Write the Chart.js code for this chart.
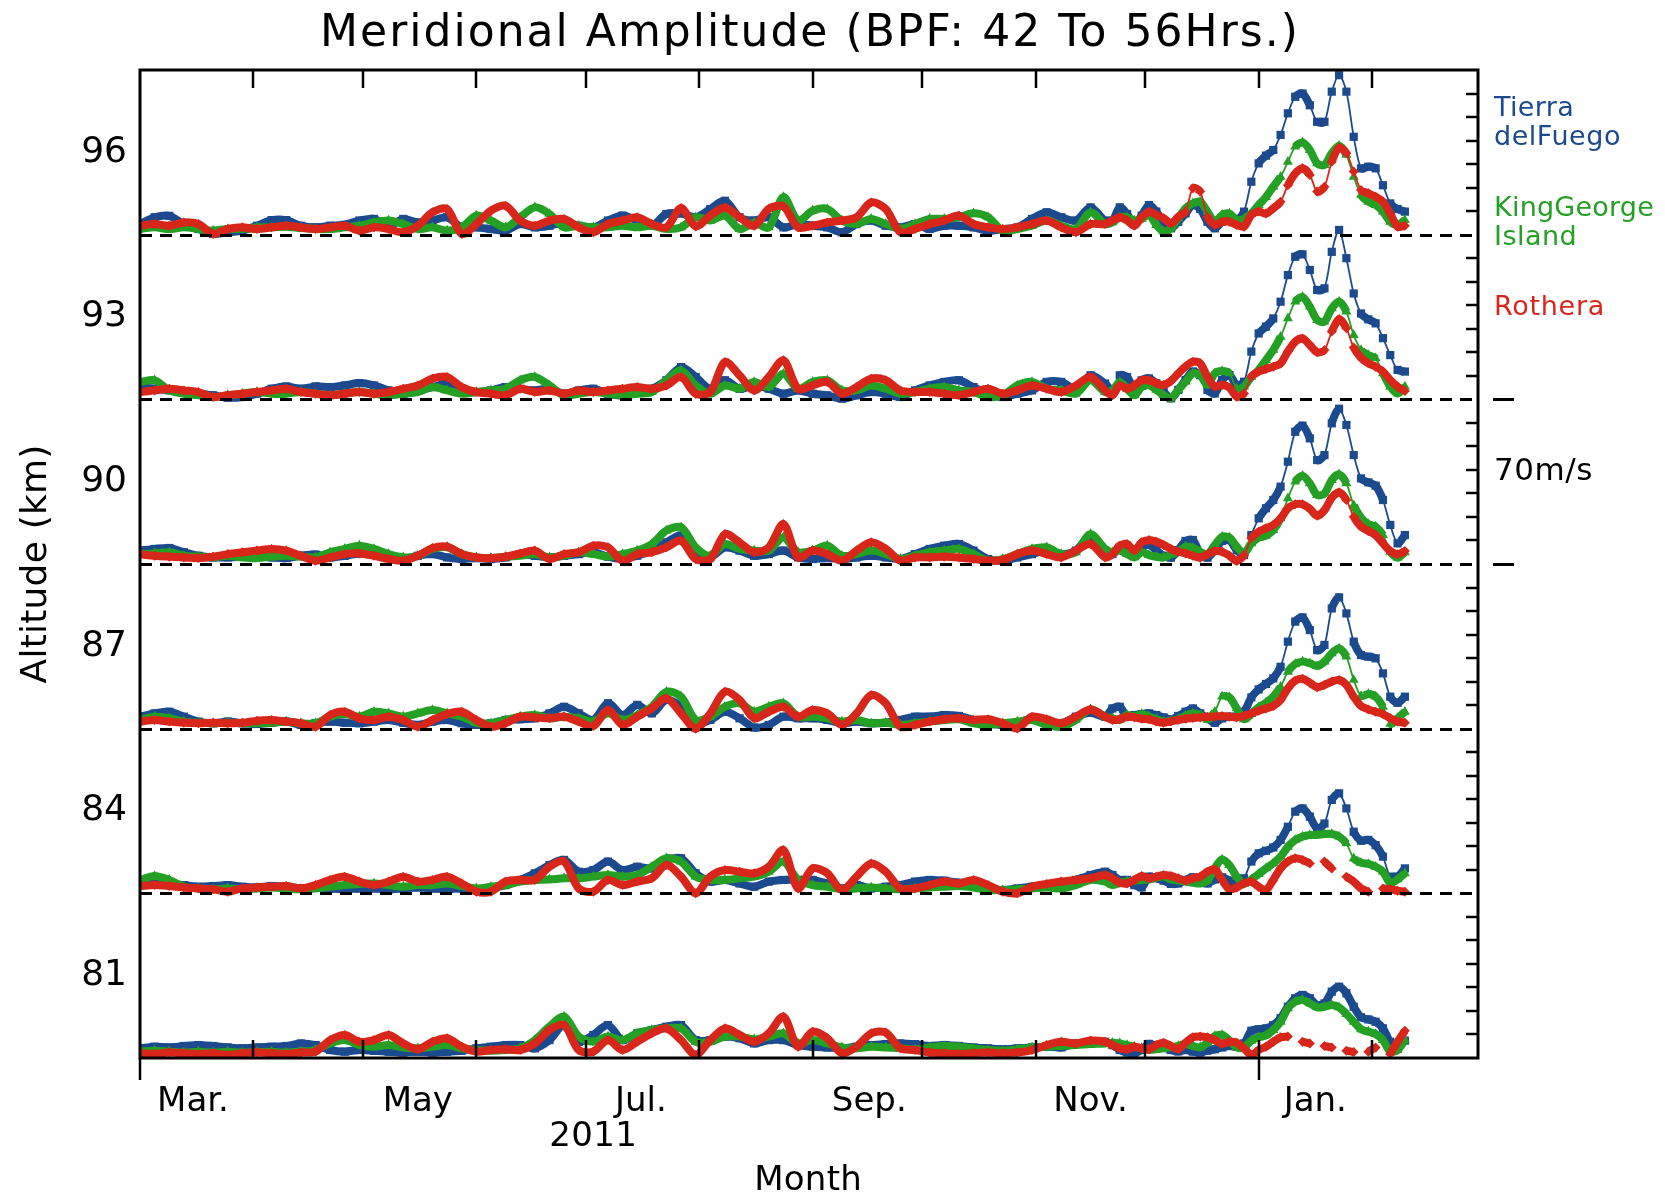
<!DOCTYPE html>
<html><head><meta charset="utf-8">
<script src="https://cdn.jsdelivr.net/npm/chart.js@4.4.0/dist/chart.umd.min.js"></script>
<style>html,body{margin:0;padding:0;background:#fff;}</style>
</head><body>
<canvas id="c" width="1665" height="1199"></canvas>
<script>
// x: days since 1 Mar 2011
const days = [0,4,8,12,16,20,24,28,32,36,40,44,48,52,56,60,64,68,72,76,80,84,88,92,96,100,104,108,112,116,120,124,128,132,136,140,144,148,152,156,160,164,168,172,176,180,184,188,192,196,200,204,208,212,216,220,224,228,232,236,240,244,248,252,256,260,264,266,268,270,272,274,276,278,280,282,284,286,288,290,292,294,296,298,300,302,304,306,308,310,312,314,316,318,320,322,324,326,328,330,332,334,336,338,340,342,344,346];

// meridional amplitudes (m/s)
const tierra96 = [4.5,7.4,8,4.5,2.4,0.3,1,1.7,3.8,6.2,6.2,3.8,3.1,3.8,4.2,6,6.7,3.8,6.7,5.2,6,7.4,3.1,3.1,2.4,1.7,4.5,3.1,3.8,5.2,3.8,3.1,6,8.1,6,3.8,8.8,9,7.4,10.9,14.4,7.4,6,7.4,3.1,4.5,3.8,3.1,1,4.5,6,3.8,3.1,4.5,2.4,3.8,3.8,3.1,1.7,2.4,3.1,6.7,9.5,7.4,6,11.6,6,6,11.6,8.8,4.5,8.1,12.6,9.8,5.5,2.7,5.5,9,12.6,11,5.5,2.7,5.5,6.7,6.2,9.8,22.5,30.3,33.6,36,42.4,51.6,58.6,60,55,48,48,60.8,67.8,60.8,41.6,28.2,28.9,28.2,21,13.3,10.9,9.8];
const king96 = [2.4,3.1,2.4,3.1,2.4,1.7,2.4,2.4,3.1,3.1,3.4,2.8,2.4,2.4,3.1,3.8,5.2,6,4.5,2.4,3.1,1.7,3.1,8.1,6,3.1,7.4,11.6,8.8,3.1,3.8,3.1,3.1,3.8,3.1,3.8,2.4,3.1,7.4,6,8.1,2.4,5,3.1,16,6,10.2,10.9,6,4.5,6.7,4.5,2.4,4.5,6.7,6.7,7.4,9.1,7.4,1.7,2.4,3.8,6,3.8,2.4,9.5,4.5,5.2,7.4,7.4,6,6.7,8.4,4.1,1.3,2.7,7,11.2,13.3,14,9.8,5.5,8.4,9,6.2,6.7,9,12.6,16,20.4,24.6,31,37.4,39.2,36,30.3,29.6,34.6,37.8,33.9,24.6,16.9,14,12.6,9.8,5.5,4.1,6.2];
const rothera96 = [3.8,4.5,3.8,5.2,4.5,0.3,2.4,3.1,2.4,3.1,3.8,3.1,2.4,3.1,3.8,1.7,3.1,2.4,1,3.8,9.5,10.9,0.3,4.5,10.2,12.3,6,3.8,6,6.7,3.1,1,4.5,6,7.4,4.5,3.1,11.3,3.5,8.1,11.5,7.4,3.8,11,12,3.1,3.8,5.2,6,7.4,13.7,10.9,1,2.4,4.5,6,8.1,4.5,3.1,2.4,3.1,4.5,6,3.1,1,4.5,4.5,6,7.4,6,3.8,7.4,9.8,8.4,7,4.8,7.6,9.8,19.7,18.3,7.6,4.1,5.5,5.5,4.1,3.4,8.4,9.8,9,11.2,14,21,26,28.2,25.4,18.3,20.4,31,37,34.6,26.8,19,17.6,16.1,14,9,3.4,3.8];

const tierra93 = [5.2,4.5,3.8,3.1,2.4,1.7,0.7,1,2.4,4.5,5.5,4.5,5.5,5.2,5.9,6.9,5.9,3.8,2.4,3.8,5.2,6.7,4.5,3.1,3.8,5.2,4.5,3.8,4.5,2.4,3.8,4.5,2.4,1.7,3.8,4.5,8.1,13.7,9.5,4.5,8.1,4.5,5.9,4.5,2.4,3.8,2.4,1.7,0.3,1.7,3.1,2.4,1,3.8,5.9,7.4,8.1,5.2,2.4,1,2.4,3.8,7.4,7.4,4.5,10.2,6.7,3.8,10.2,9.5,4.5,8.1,8.9,6.8,3.3,0.4,4,8.2,11.8,10.3,4,2.5,8.2,10.3,6.1,7.5,20.3,28,30.9,34.4,41.5,52.8,60.6,61.6,55,46.5,47.2,62.7,72,60,45,36.5,34,32.3,26,18.8,12.5,11.8];
const king93 = [7.4,8.1,3.8,2.4,1.7,1,1.7,2.4,3.1,2.4,2.4,3.1,2.4,1.7,2.4,3.1,2.4,1.7,2.4,3.1,5.2,3.8,2.4,3.1,3.8,4.5,8.1,9.5,5.9,1.7,2.4,3.1,2.4,1.7,2.4,3.1,8.1,12.3,5.9,2.4,5.9,4.5,7.4,5.2,10.9,4.5,7.4,8.1,3.8,3.8,5.9,4.5,2.4,3.1,4.5,5.2,3.8,3.1,1,1.7,5.9,7.4,4.5,3.8,2.4,8.1,3.1,3.8,7.4,4.5,1.7,5.2,6.1,4,1.8,0.4,4,7.5,11,10.3,6.1,11,12,11,4.7,5.4,9.6,12.5,16.7,21,26.6,34.4,41.5,43.5,39.4,33.7,33,38.7,41.5,37.3,27.3,21,18.8,17.4,11,5.4,2.5,5.4];
const rothera93 = [3.1,3.8,4.5,3.8,3.1,1,1.7,2.4,3.1,3.8,4.5,3.1,2.4,1.7,2.4,3.1,2.4,3.1,4.5,5.9,8.8,9.5,5.2,3.1,2.4,1.7,4.5,3.1,3.8,2.4,3.8,3.1,3.8,4.5,5.2,4.5,5.9,9.5,2.4,3.1,15.9,10.2,3.8,9.5,16.6,4.5,5.9,7.4,2.4,5.2,8.8,8.1,3.8,3.1,3.1,2.4,1.7,3.1,4.5,2.4,3.8,5.9,4.5,3.1,5.9,9.5,3.8,1.7,5.9,4.5,5.9,8.1,8.2,6.8,6.1,7.8,11,13.9,16,15.3,9.6,5.4,6.1,5,1.1,2.5,9.6,11.8,12.9,13.9,15.3,20.3,24.5,25.9,23.1,20,21,28.8,34.1,30.2,22,17.7,15.3,13.9,11.8,8.2,5.4,3.5];

const tierra90 = [5.7,6.4,6.8,5,3.5,2.8,2.8,3.1,3.5,2.8,2.5,3.5,4,2.8,3.5,4.5,4.2,2.8,2.1,3.5,4.2,2.8,2.1,2.5,2.1,2.8,4.2,3.5,2.8,3.5,4.2,5,3.1,2.1,3.5,5.7,9.2,12,4.2,2.8,7.1,5.7,3.5,4.2,5.7,2.8,2.1,2.5,2.1,2.8,3.5,2.8,2.1,4.2,6.4,7.8,8.5,5.7,2.1,1.4,2.8,4.2,5.7,4.2,5.7,12,5.7,4.2,7.1,7.8,5.7,7.1,8.1,5.9,3.5,2.7,5.9,9.8,10.2,4.5,2.7,5.9,9.8,10.2,5.9,3.8,12.3,19.4,23.7,27.2,32.9,43.5,56.2,58.8,53.4,44.2,46.3,59.8,66,59.1,46.3,36.4,34.7,33.3,27.2,16.6,8.8,12.3];
const king90 = [4.2,4.5,5,3.5,3.1,2.8,3.5,2.8,2.5,3.1,3.5,3.1,2.8,5,6.4,7.8,6.4,4.2,2.8,3.5,6.4,7.1,4.2,2.8,2.5,3.1,3.5,4.2,2.8,3.5,5,4.2,3.1,4.2,5.7,8.5,14.2,15.6,7.1,3.5,8.5,6.4,5.7,5.7,11.3,5,5.7,7.8,3.5,4.2,5.7,4.2,2.1,3.5,5,5.7,6.4,4.2,1.4,2.1,4.2,6.4,7.1,4.2,5,12.7,6.4,5,5.7,4.2,2.8,5,3.8,3.1,2.7,4.1,5.2,7.4,6.9,5.2,4.1,8.1,11.6,11.2,7.4,4.5,8.8,11.2,12,14.4,19.4,27.9,35,37.5,34.3,29.3,30,35.7,38.1,34.3,25,19.7,16.9,15.9,12.3,5.2,2.7,5];
const rothera90 = [4.2,3.5,3.1,2.8,2.5,3.1,4.2,5,5.7,6.4,5.7,3.5,1.4,2.8,4.2,4.5,3.5,2.1,1.4,3.5,6.8,7.4,4.2,2.8,2.5,3.1,4.5,5.7,2.1,4.2,5,7.8,7.1,1.4,4.2,5,7.1,9.9,2.1,2.1,12.7,9.2,5,7.1,17,2.8,5.7,4.2,1.4,5.7,9.2,6.4,1.4,2.8,2.8,3.1,2.8,2.1,1.4,1.7,4.2,5.7,4.2,2.8,5.7,8.5,2.8,4.2,7.8,8.5,5.7,9.2,10.2,9.5,8.1,6.4,5.2,4.5,3.5,2.7,4.1,5.5,5.2,3.5,1.3,3.8,10.9,13.7,15.2,16.6,19.4,23.7,25.4,25.4,23.4,20.5,22.9,28.2,30.5,27.2,20.1,15.9,14,12.3,8.8,5.5,4.1,5.5];

const tierra87 = [5.1,6.5,7.2,5.1,3,2.3,3,2.3,2,2.5,3,1.6,2.3,3,2.5,2.3,3,3.7,2.5,1.6,3,3.7,2.3,1.6,2.3,3.7,4,4.4,6.5,9.3,6.5,3.7,10.8,5.8,10.1,6.5,12.2,9.3,2.3,3.7,7.2,4.4,0.5,1.6,5.1,4.4,4.4,3.7,2.3,3,2.3,2.5,3.7,5.1,5.1,5.8,5.4,3.7,2.3,1.6,2.3,4.4,3.7,2.3,5.1,6.8,5.1,8.6,9.3,5.1,5.8,6.2,6.5,5.8,4.8,4,5.4,7.2,8.6,6.5,4.4,2.5,4.4,5.1,5.1,7.2,13.3,16.7,19,21.4,26.3,37,45.5,47.3,41.9,33.4,35.6,51.1,55.8,49,37,31.3,30.6,29.9,23.5,13.6,11,13.6];
const king87 = [3.7,5.1,4.4,3,2.5,2.3,2.5,2.3,2.3,2.5,3,2.3,2.3,5.1,6.2,5.1,7.2,6.5,5.1,6.5,7.9,6.5,5.1,2.5,2.3,3.7,5.1,5.8,4.4,5.1,4.4,3,6.5,3.7,5.8,9.3,15.7,13.6,3.7,5.1,9.3,10.8,7.2,9.3,10.8,5.1,5.1,4.4,3,3.7,2.3,2.5,1.6,2.3,3,3.7,4,2.3,1.6,2.3,3,3.7,1.6,0.8,3.7,8.2,5.1,4.4,3.7,5.8,5.1,6.2,5.1,4,3,3.4,4,5.5,6.5,5.8,4,7.2,13.6,13.3,8.6,4,6.2,9.1,11,13.6,17.8,24.2,27.5,28.5,27.8,26.6,28.5,32,34.1,30.6,20.7,13.9,14.7,13.6,9.3,2,4.4,7.2];
const rothera87 = [3,3.7,3,2.5,2.3,2.5,2.3,2.5,3.4,3.7,3,2.3,0.8,5.8,7.2,4.4,3.7,5.1,3.7,0.8,3.7,6.2,7.2,3.7,0.8,2.3,5.1,4.8,4.4,5.1,3,1.1,7.9,1.6,5.1,8.6,12.9,6.5,0,6.5,15.7,12.2,4.4,7.2,9.3,5.1,7.9,6.5,1.6,6.5,14.3,10.8,0.8,1.6,3,4,4.4,3.7,4,2.3,0.1,5.1,4,2.3,5.1,8.2,5.1,3.7,4,5.1,4.8,4.2,4,3,2.5,3.1,3.7,4.2,4.5,4.8,5.1,5.1,5.4,5.1,4.8,5.4,6.5,7.6,8.6,9.6,12.2,17.1,20.4,21.2,19.5,17.6,18.6,20,20.7,18.6,13.6,9.6,8.2,7.2,6.2,4.4,3,2.5];

const tierra84 = [3.5,4.5,4,3.5,2.8,3.1,3.5,2.8,2.5,3.1,2.8,2.1,2.5,2.1,1.7,2.1,2.1,1.7,2.1,2.5,2.1,1.7,2.1,1.4,2.1,3.5,5.7,8.5,12,14.2,9.2,9.9,13.5,9.9,11.3,10.6,14.2,14.9,8.5,5,5.7,4.2,2.8,5,5.7,5.7,5.7,4.2,2.1,3.5,2.1,2.8,3.5,5,5.7,5.4,4.5,3.5,2.1,1.4,2.1,2.8,3.5,3.5,5.7,7.8,9.2,7.8,5.7,5.7,3.5,2.5,7.1,6.4,5.4,4,4.2,5.7,6.8,5.9,4.2,5.9,6.8,5.4,3.5,6.4,13.5,17,18.1,19.5,22.7,28.3,34.7,36.1,32.6,27.6,29.7,39.7,42.5,36.1,26.2,22.4,22.7,20.5,15.6,7.1,7.1,10.6];
const king84 = [5.7,7.4,5.7,2.8,2.1,1.7,2.1,1.7,2.1,2.5,2.1,1.7,2.1,2.8,3.5,4,4.2,3.5,2.8,3.5,3.5,4.2,3.1,2.1,2.8,3.5,5,5.7,5.9,6.4,6.4,7.1,7.8,7.1,7.8,11.3,14.9,13.5,7.1,5.7,5.7,6.4,7.1,9.2,13.5,5.7,3.5,2.8,1.7,2.1,2.5,2.1,1.7,2.1,2.5,2.8,3.1,2.5,1.4,1.4,1.7,2.1,2.5,2.1,3.5,5.7,5,3.5,4.5,5,5.4,5.7,5.9,6.7,7.1,5.9,5.4,5,4.5,4.2,5.4,10.6,14.4,12,7.1,4,5.9,8.2,10.6,12.7,15.6,19.8,22.7,24.1,24.8,24.8,25.2,25.2,24.1,21.2,14.9,13,12.5,11.3,9.2,4.5,5.9,8.5];
const rothera84 = [3.1,3.5,3.1,2.5,2.1,1.7,0.7,2.1,2.5,2.8,3.1,2.1,3.5,5.7,7.1,5,3.5,5,7.1,5,5.7,7.1,4.2,0.7,0.7,5,5.7,5.7,11.3,13.5,2.1,0.7,5.7,3.5,5,6.4,12,7.1,0,7.1,9.9,9.2,8.5,11.3,18.4,2.1,10.6,8.5,1.4,7.1,12.7,9.2,2.1,2.1,3.5,5,4.2,5.7,3.5,0.7,0,2.8,4,5,5.7,6.4,7.8,6.4,4.5,4.2,5.7,7.4,6.4,7.1,7.8,7.4,6.4,5.4,6.4,7.1,9.2,10.2,5.7,1.7,2.5,4.2,5,2.8,1.4,5.7,10.6,13.5,14.9,14.2,12.7,null,13.5,10.6,null,7.1,5,2.1,0.7,null,2.1,1.7,1.1,0.7];

const tierra81 = [4.1,4.8,4.5,5.1,5.5,5.1,4.5,4.1,4.5,4.8,5.1,6.2,5.5,3.4,2.7,3.4,3.1,2.7,2.3,2.7,2.3,2.7,3.1,4.1,4.8,5.5,5.5,4.1,7.6,14,6.9,9.8,14,7.6,10.5,11.9,13.3,14,7.6,7.6,9.1,8.4,6.2,7.6,7.6,5.5,4.8,4.5,4.1,4.8,5.5,5.9,6.2,5.9,5.1,5.5,5.1,4.5,4.1,3.7,4.1,4.5,4.8,4.5,6.2,6.2,6.9,5.5,3.4,2.3,2,3.4,6,5.1,4.5,3.4,2.8,3.4,2.7,2.3,3.1,3.7,4.5,5.1,4.8,6.2,11.6,12.2,12.6,14,16.9,21.8,25.4,26.8,25.4,22.5,23.2,28.2,30.3,27.5,21.8,17.3,16.4,15.4,12.6,6.9,5.1,7.4];
const king81 = [2.7,3.1,2.7,2.3,2.7,2.3,2.7,2.3,2.5,2.7,2.3,2.7,3.4,6.2,7.6,5.5,4.8,5.5,4.5,4.1,4.8,5.5,4.1,3.4,3.1,3.4,4.1,7.6,13.3,17.6,9.1,6.9,9.1,7.6,10.5,11.9,12.6,12.6,6.9,6.9,9.1,9.1,7.9,9.1,10.5,6.2,7.6,6.2,4.5,4.1,4.8,4.5,4.1,3.7,4.5,5.1,4.8,4.1,3.4,3.1,3.7,4.5,4.8,5.1,5.5,5.9,6.2,6.5,6.2,5.5,4.8,4.1,3.4,3.7,4.1,4.5,5.1,6,5.1,4.5,6.5,9.3,9.8,7.4,4.5,4.5,7.4,8.8,9.6,11.9,15.4,21.1,23.9,24.6,23.2,21.5,21.8,22.5,21.5,18.7,15.4,12.2,11.2,10.2,7.6,2.7,3.4,7.6];
const rothera81 = [2,1.7,2.3,2,1.7,2,1.3,2,2.3,2,1.7,2.3,2.7,7.6,9.8,6.9,7.6,9.8,6.2,3.7,6.9,8.4,4.8,2.7,3.4,3.7,3.4,6.2,11.9,14,3.4,2.7,7.6,3.4,6.9,10.5,12.6,7.6,1.3,7.6,12.6,9.8,6.9,10.5,17.6,4.8,11.2,8.4,2,4.8,10.5,10.8,4.1,3.4,2.3,2,1.7,2,2.3,2,2.3,3.4,5.5,6.9,6.2,7.4,6.9,5.5,4.1,3.7,4.8,4.1,3.7,5.5,6.5,5.1,3.7,6.5,8.8,9.1,8.8,7.6,6,6.9,6.5,4.1,1.3,3.4,4.8,6.9,8.8,9.1,null,6.9,6.2,null,5.1,4.5,null,3.1,2.5,null,2.7,4.5,null,1.7,6.9,11.6];

const stations = ['Tierra delFuego', 'KingGeorge Island', 'Rothera'];
const panelBases = [94.5, 91.5, 88.5, 85.5, 82.5, 79.5];   // km, zero-amplitude line of each panel
const panelSeries = [
  [tierra96, king96, rothera96],
  [tierra93, king93, rothera93],
  [tierra90, king90, rothera90],
  [tierra87, king87, rothera87],
  [tierra84, king84, rothera84],
  [tierra81, king81, rothera81]
];
const kmPerPanel = 3, speedPerPanel = 70;      // 70 m/s spans one 3 km panel
const yTickValues = [81, 84, 87, 90, 93, 96];
const monthStartDays = [31, 61, 92, 122, 153, 184, 214, 245, 275, 306, 337];
const yearStartDays = [0, 306];
const monthLabelDays = [14.5, 76, 137, 199.5, 260, 321.5];
const monthLabels = ['Mar.', 'May', 'Jul.', 'Sep.', 'Nov.', 'Jan.'];

const colors = ['#1b4a8e', '#24a024', '#d8261a'];
const shapes = ['rect', 'triangle', 'rectRot'];
const radii = [5.8, 5.8, 5.0];
const FONT = 'DejaVu Sans';

panelSeries.forEach(p => p.forEach(s => { if (s.length !== days.length) throw new Error('length mismatch ' + s.length); }));

const datasets = [];
panelSeries.forEach((series, pi) => {
  series.forEach((vals, si) => {
    datasets.push({
      label: stations[si] + ' ' + pi,
      data: days.map((d, j) => ({x: d, y: vals[j] === null ? null : panelBases[pi] + vals[j] * kmPerPanel / speedPerPanel})),
      borderColor: colors[si],
      backgroundColor: colors[si],
      pointBackgroundColor: colors[si],
      pointBorderWidth: 0,
      pointRadius: radii[si],
      pointStyle: shapes[si],
      borderWidth: 8,
      tension: 0.3,
      spanGaps: false,
      order: 2 - si,
      segment: {
        borderWidth: ctx => {
          const dx = ctx.p1.x - ctx.p0.x, dy = Math.abs(ctx.p1.y - ctx.p0.y);
          return (dx < 10 && dy > 2.0 * dx) ? 1.8 : 8;
        }
      }
    });
  });
});

function fitText(ctx, text, x, y, target, align) {
  ctx.letterSpacing = '0px';
  const w = ctx.measureText(text).width;
  let ls = (target - w) / text.length;
  ls = Math.max(-2, Math.min(6, ls));
  ctx.letterSpacing = ls.toFixed(2) + 'px';
  ctx.textAlign = align;
  let xx = x;
  if (align === 'center') xx = x + ls / 2;
  ctx.fillText(text, xx, y);
  ctx.letterSpacing = '0px';
}

const decor = {
  id: 'decor',
  afterDatasetsDraw(chart) {
    const {ctx, chartArea: a, scales: {x, y}} = chart;
    ctx.save();
    ctx.strokeStyle = '#000';
    // dashed zero lines
    ctx.lineWidth = 3;
    ctx.setLineDash([12, 8]);
    panelBases.slice(0, 5).forEach(b => {
      const py = Math.round(y.getPixelForValue(b)) + 0.5;
      ctx.beginPath(); ctx.moveTo(a.left, py); ctx.lineTo(a.right, py); ctx.stroke();
    });
    ctx.setLineDash([]);
    // frame
    ctx.lineWidth = 3;
    ctx.strokeRect(a.left, a.top, a.right - a.left, a.bottom - a.top);
    // month ticks top & bottom
    ctx.lineWidth = 2.5;
    monthStartDays.forEach(d => {
      const px = Math.round(x.getPixelForValue(d));
      ctx.beginPath();
      ctx.moveTo(px, a.top); ctx.lineTo(px, a.top + 18);
      ctx.moveTo(px, a.bottom); ctx.lineTo(px, a.bottom - 18);
      ctx.stroke();
    });
    // year ticks below axis
    yearStartDays.forEach(d => {
      const px = Math.round(x.getPixelForValue(d));
      ctx.beginPath(); ctx.moveTo(px, a.bottom); ctx.lineTo(px, a.bottom + 22); ctx.stroke();
    });
    // right-hand 10 m/s ticks
    ctx.lineWidth = 2.5;
    panelBases.forEach(b => {
      for (let k = 1; k <= 6; k++) {
        const py = Math.round(y.getPixelForValue(b + k * 10 * kmPerPanel / speedPerPanel));
        ctx.beginPath(); ctx.moveTo(a.right, py); ctx.lineTo(a.right - 12, py); ctx.stroke();
      }
    });
    // 70 m/s scale bar marks
    ctx.lineWidth = 3;
    [91.5, 88.5].forEach(v => {
      const py = Math.round(y.getPixelForValue(v)) + 0.5;
      ctx.beginPath(); ctx.moveTo(a.right + 15, py); ctx.lineTo(a.right + 36, py); ctx.stroke();
    });
    // texts
    ctx.fillStyle = '#000';
    ctx.textBaseline = 'middle';
    ctx.font = '44px "' + FONT + '"';
    fitText(ctx, 'Meridional Amplitude (BPF: 42 To 56Hrs.)', (a.left + a.right) / 2, 35, 980, 'center');
    ctx.font = '34px "' + FONT + '"';
    fitText(ctx, 'Month', 808, 1181, 108, 'center');
    fitText(ctx, '2011', 593, 1137, 88, 'center');
    ctx.save();
    ctx.translate(37, (a.top + a.bottom) / 2);
    ctx.rotate(-Math.PI / 2);
    ctx.font = '36px "' + FONT + '"';
    fitText(ctx, 'Altitude (km)', 0, 0, 239, 'center');
    ctx.restore();
    // station labels
    const lx = a.right + 16;
    ctx.font = '27px "' + FONT + '"';
    ctx.fillStyle = colors[0];
    fitText(ctx, 'Tierra', lx, 109, 80, 'left');
    fitText(ctx, 'delFuego', lx, 138, 127, 'left');
    ctx.fillStyle = colors[1];
    fitText(ctx, 'KingGeorge', lx, 209, 160, 'left');
    fitText(ctx, 'Island', lx, 238, 83, 'left');
    ctx.fillStyle = colors[2];
    fitText(ctx, 'Rothera', lx, 308, 111, 'left');
    ctx.fillStyle = '#000';
    ctx.font = '31px "' + FONT + '"';
    fitText(ctx, '70m/s', lx, 472, 99, 'left');
    ctx.restore();
  }
};

new Chart(document.getElementById('c'), {
  type: 'line',
  data: {datasets},
  options: {
    responsive: false,
    animation: false,
    devicePixelRatio: 1,
    layout: {padding: {top: 70, right: 187, left: 0, bottom: 0}},
    plugins: {legend: {display: false}, tooltip: {enabled: false}, title: {display: false}},
    scales: {
      x: {
        type: 'linear', min: 0, max: 366,
        grid: {display: false, drawTicks: false},
        border: {display: false},
        afterBuildTicks: ax => { ax.ticks = monthLabelDays.map(v => ({value: v})); },
        afterFit: ax => { ax.height = 141; },
        ticks: {autoSkip: false, maxRotation: 0, padding: 24, color: '#000',
                font: {family: FONT, size: 34},
                callback: (v, i) => monthLabels[i]}
      },
      y: {
        type: 'linear', min: 79.5, max: 97.5,
        grid: {display: false, drawTicks: false},
        border: {display: false},
        afterBuildTicks: ax => { ax.ticks = yTickValues.map(v => ({value: v})); },
        afterFit: ax => { ax.width = 140; },
        ticks: {padding: 13, color: '#000', font: {family: FONT, size: 36},
                callback: v => String(v)}
      }
    }
  },
  plugins: [decor]
});
</script>
</body></html>
